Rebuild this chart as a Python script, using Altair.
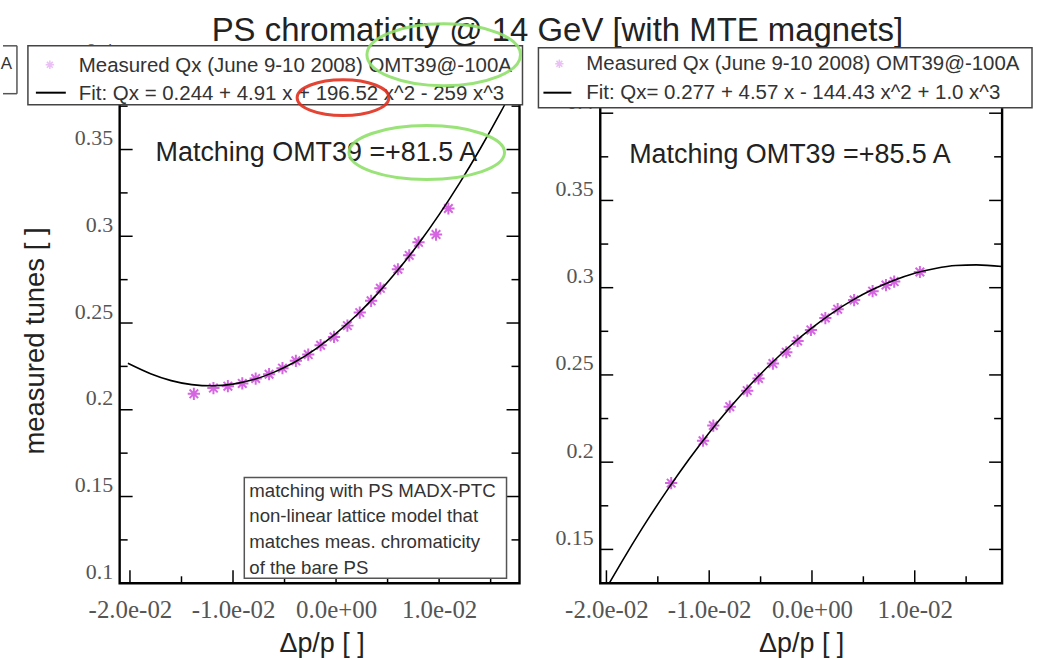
import altair as alt
import pandas as pd

# ---------------- texts ----------------
TITLE = "PS chromaticity @ 14 GeV [with MTE magnets]"
Y_TITLE = "measured tunes [ ]"
X_TITLE = "Δp/p [ ]"
LEGEND_MEAS = "Measured Qx (June 9-10 2008) OMT39@-100A"
LEFT_FIT_LABEL = "Fit: Qx = 0.244 + 4.91 x + 196.52 x^2 - 259 x^3"
RIGHT_FIT_LABEL = "Fit: Qx= 0.277 + 4.57 x - 144.43 x^2 + 1.0 x^3"
LEFT_NOTE = "Matching OMT39 =+81.5 A"
RIGHT_NOTE = "Matching OMT39 =+85.5 A"
BOX_LINES = ["matching with PS MADX-PTC", "non-linear lattice model that",
             "matches meas. chromaticity", "of the bare PS"]

# ---------------- data ----------------
LEFT_MEAS_X = [-0.0138, -0.0119, -0.0105, -0.0091, -0.0078, -0.0065, -0.0052, -0.0039,
               -0.0027, -0.0015, -0.0002, 0.0011, 0.0023, 0.0034, 0.0043, 0.0060,
               0.0071, 0.0080, 0.0097, 0.0109]
LEFT_MEAS_Y = [0.2092, 0.2125, 0.2136, 0.2152, 0.2180, 0.2205, 0.2240, 0.2282,
               0.2318, 0.2372, 0.2420, 0.2485, 0.2560, 0.2628, 0.2700, 0.2810,
               0.2890, 0.2965, 0.3010, 0.3160]
LEFT_FIT_X = [-0.0202, -0.018, -0.016, -0.014, -0.012, -0.010, -0.008, -0.006, -0.004,
              -0.002, 0.000, 0.002, 0.004, 0.006, 0.008, 0.010, 0.012, 0.014, 0.016, 0.018]
LEFT_FIT_Y = [0.2268, 0.2208, 0.2168, 0.2145, 0.2138, 0.2148, 0.2174, 0.2217, 0.2275,
              0.2350, 0.2440, 0.2546, 0.2668, 0.2805, 0.2957, 0.3125, 0.3308, 0.3506,
              0.3718, 0.3945]

RIGHT_MEAS_X = [-0.0137, -0.0106, -0.0096, -0.0080, -0.0063, -0.0052, -0.0038, -0.0025,
                -0.0014, -0.0001, 0.0013, 0.0025, 0.0041, 0.0059, 0.0072, 0.0080, 0.0105]
RIGHT_MEAS_Y = [0.1880, 0.2123, 0.2210, 0.2318, 0.2410, 0.2480, 0.2565, 0.2630,
                0.2695, 0.2758, 0.2826, 0.2877, 0.2929, 0.2980, 0.3015, 0.3035, 0.3090]
RIGHT_FIT_X = [-0.0198, -0.018, -0.016, -0.014, -0.012, -0.010, -0.008, -0.006, -0.004,
               -0.002, 0.000, 0.002, 0.004, 0.006, 0.008, 0.010, 0.012, 0.014, 0.016, 0.0185]
RIGHT_FIT_Y = [0.1299, 0.1479, 0.1669, 0.1847, 0.2014, 0.2169, 0.2312, 0.2444, 0.2564,
               0.2673, 0.2770, 0.2856, 0.2930, 0.2992, 0.3043, 0.3083, 0.3110, 0.3127,
               0.3131, 0.3121]

# ---------------- axes / ticks ----------------
X_MAJOR = [-0.02, -0.01, 0.0, 0.01]
X_MINOR = [-0.015, -0.005, 0.005, 0.015]
LEFT_Y_MAJOR = [0.1, 0.15, 0.2, 0.25, 0.3, 0.35, 0.4]
LEFT_Y_MINOR = [0.125, 0.175, 0.225, 0.275, 0.325, 0.375]
RIGHT_Y_MAJOR = [0.15, 0.2, 0.25, 0.3, 0.35, 0.4]
RIGHT_Y_MINOR = [0.175, 0.225, 0.275, 0.325, 0.375, 0.425]

LX_DOMAIN = [-0.021, 0.0178]
RX_DOMAIN = [-0.0206, 0.0185]
LY_DOMAIN = [0.1, 0.4]
RY_DOMAIN = [0.1306, 0.4289]

W_L, W_R, H = 401, 403, 522
SANS = "Liberation Sans"
SERIF = "Liberation Serif"
MAGENTA = "#cc3fdc"
ASTER = "M-1,0L1,0M0,-1L0,1M-0.7,-0.7L0.7,0.7M-0.7,0.7L0.7,-0.7"

X_LABEL_EXPR = ("(datum.value < 0 ? '-' : '') + replace(replace(format(abs(datum.value), '.1e'),"
                " 'e-', 'e-0'), 'e+', 'e+0')")


def one():
    return pd.DataFrame({"k": [0]})


def ellipse_path(ratio):
    return f"M-1,0A1,{ratio:.3f},0,1,0,1,0A1,{ratio:.3f},0,1,0,-1,0"


def text_at(s, x, y, size, color="#333", font=SANS, align="left", baseline="middle", angle=0):
    kw = {}
    if angle:
        kw["angle"] = angle
    return alt.Chart(one()).mark_text(
        text=s, font=font, fontSize=size, color=color, align=align, baseline=baseline, **kw
    ).encode(x=alt.value(x), y=alt.value(y))


def box(x1, x2, y1, y2, stroke="#444", sw=1.5, fill="white"):
    return alt.Chart(one()).mark_rect(fill=fill, stroke=stroke, strokeWidth=sw).encode(
        x=alt.value(x1), x2=alt.value(x2), y=alt.value(y1), y2=alt.value(y2))


def seg(x1, x2, y1, y2, color="black", sw=1.5):
    return alt.Chart(one()).mark_rule(color=color, strokeWidth=sw).encode(
        x=alt.value(x1), x2=alt.value(x2), y=alt.value(y1), y2=alt.value(y2))


def ellipse(cx, cy, rx, ry, color):
    return alt.Chart(one()).mark_point(
        shape=ellipse_path(ry / rx), size=(2 * rx) ** 2, filled=False,
        stroke=color, strokeWidth=3, opacity=0.9
    ).encode(x=alt.value(cx), y=alt.value(cy))


def make_axes(y_major):
    xaxis = alt.Axis(values=X_MAJOR, labelExpr=X_LABEL_EXPR, labelFont=SERIF, labelFontSize=25,
                     labelColor="#555", labelPadding=14, labelFlush=False, labelOverlap=False,
                     labelBaseline="top", domain=False, ticks=False, tickSize=0, grid=False,
                     title=None)
    yaxis = alt.Axis(values=y_major, format=".2~f", labelFont=SERIF, labelFontSize=22,
                     labelColor="#555", labelPadding=7, labelOffset=-12, labelFlush=False,
                     labelOverlap=False, domain=False, ticks=False, tickSize=0, grid=False,
                     title=None)
    return xaxis, yaxis


def tick_rules(vals, length, side, xs, ys, W, xaxis, yaxis):
    df = pd.DataFrame({"x": vals, "y": vals})
    m = alt.Chart(df).mark_rule(color="black", strokeWidth=1.5)
    X = alt.X("x:Q", scale=xs, axis=xaxis)
    Y = alt.Y("y:Q", scale=ys, axis=yaxis)
    if side == "bottom":
        return m.encode(x=X, y=alt.value(H), y2=alt.value(H - length))
    if side == "top":
        return m.encode(x=X, y=alt.value(0), y2=alt.value(length))
    if side == "left":
        return m.encode(y=Y, x=alt.value(0), x2=alt.value(length))
    return m.encode(y=Y, x=alt.value(W), x2=alt.value(W - length))


def panel(W, xdom, ydom, y_major, y_minor, mx, my, fx, fy, left):
    xs = alt.Scale(domain=xdom, nice=False, zero=False)
    ys = alt.Scale(domain=ydom, nice=False, zero=False)
    xaxis, yaxis = make_axes(y_major)
    layers = []
    if left:
        # canvas extent (defines the page area)
        layers.append(alt.Chart(one()).mark_rect(fill="white", opacity=0).encode(
            x=alt.value(-117), x2=alt.value(920), y=alt.value(-62), y2=alt.value(598)))
    layers.append(box(0, W, 0, H, stroke="black", sw=2.4, fill="white"))
    pts = pd.DataFrame({"x": mx, "y": my})
    layers.append(alt.Chart(pts).mark_point(
        shape=ASTER, size=150, filled=False, stroke=MAGENTA, strokeWidth=2, opacity=0.8
    ).encode(x=alt.X("x:Q", scale=xs, axis=xaxis), y=alt.Y("y:Q", scale=ys, axis=yaxis)))
    fit = pd.DataFrame({"x": fx, "y": fy})
    layers.append(alt.Chart(fit).mark_line(color="black", strokeWidth=1.6, clip=True,
                                           interpolate="monotone").encode(
        x=alt.X("x:Q", scale=xs, axis=xaxis), y=alt.Y("y:Q", scale=ys, axis=yaxis)))
    for side in ("bottom", "top"):
        layers.append(tick_rules(X_MAJOR, 13, side, xs, ys, W, xaxis, yaxis))
        layers.append(tick_rules(X_MINOR, 7, side, xs, ys, W, xaxis, yaxis))
    for side in ("left", "right"):
        layers.append(tick_rules(y_major, 13, side, xs, ys, W, xaxis, yaxis))
        layers.append(tick_rules(y_minor, 8, side, xs, ys, W, xaxis, yaxis))
    return layers


# ---------------- left panel ----------------
L = panel(W_L, LX_DOMAIN, LY_DOMAIN, LEFT_Y_MAJOR, LEFT_Y_MINOR,
          LEFT_MEAS_X, LEFT_MEAS_Y, LEFT_FIT_X, LEFT_FIT_Y, True)
L += [
    # remnant of a neighbouring legend at the far left
    seg(-103, -103, -17, 31, color="#555", sw=1.5),
    seg(-117, -103, -17, -17, color="#555", sw=1.5),
    seg(-117, -103, 31, 31, color="#555", sw=1.5),
    text_at("A", -108, 1, 17, align="right"),
    # legend
    box(-92, 404, -17, 42),
    alt.Chart(one()).mark_point(shape=ASTER, size=70, filled=False, stroke="#e3a6f2",
                                strokeWidth=1.5).encode(x=alt.value(-70), y=alt.value(2)),
    seg(-84, -54, 30, 30, color="black", sw=2),
    text_at(LEGEND_MEAS, -41, 3, 20.5),
    text_at(LEFT_FIT_LABEL, -41, 31, 20.5),
    # notes
    text_at(LEFT_NOTE, 36, 91, 27, color="#222"),
    box(125, 388, 416, 517, stroke="#555", sw=1.5),
    alt.Chart(one()).mark_text(text=BOX_LINES, font=SANS, fontSize=18.7, color="#333",
                               align="left", baseline="top", lineHeight=26).encode(
        x=alt.value(130), y=alt.value(420)),
    # titles
    text_at(TITLE, 439, -22, 33, color="#222", align="center", baseline="alphabetic"),
    text_at(Y_TITLE, -84, 279, 27.5, color="#222", align="center", angle=270),
    text_at(X_TITLE, 203, 591, 27, color="#222", align="center", baseline="alphabetic"),
    # highlight ellipses
    ellipse(325, -8, 77, 31, "#8fe06a"),
    ellipse(224, 35, 46, 18, "#e2301f"),
    ellipse(308, 90, 78, 27, "#8fe06a"),
]
left_chart = alt.layer(*L).properties(width=W_L, height=H)

# ---------------- right panel ----------------
R = panel(W_R, RX_DOMAIN, RY_DOMAIN, RIGHT_Y_MAJOR, RIGHT_Y_MINOR,
          RIGHT_MEAS_X, RIGHT_MEAS_Y, RIGHT_FIT_X, RIGHT_FIT_Y, False)
R += [
    box(-62, 433, -15, 45),
    alt.Chart(one()).mark_point(shape=ASTER, size=70, filled=False, stroke="#e3a6f2",
                                strokeWidth=1.5).encode(x=alt.value(-41), y=alt.value(1)),
    seg(-57, -29, 30, 30, color="black", sw=2),
    text_at(LEGEND_MEAS, -14, 1, 20.5),
    text_at(RIGHT_FIT_LABEL, -14, 30, 20.5),
    text_at(RIGHT_NOTE, 29, 93, 27, color="#222"),
    text_at(X_TITLE, 202, 591, 27, color="#222", align="center", baseline="alphabetic"),
]
right_chart = alt.layer(*R).properties(width=W_R, height=H)

chart = alt.hconcat(left_chart, right_chart, spacing=81, bounds="flush").properties(
    padding=0, background="white"
).configure_view(stroke=None).configure_axis(zindex=0)

chart.save("out.html", embed_options={"renderer": "svg", "actions": False})
